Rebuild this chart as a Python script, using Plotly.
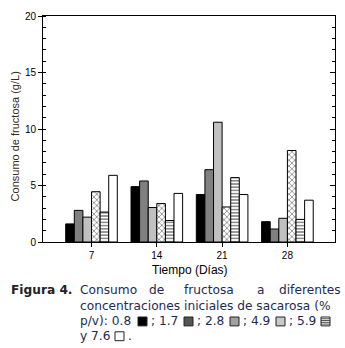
import plotly.graph_objects as go

days = [7, 14, 21, 28]
tick_labels = ["7", "14", "21", "28"]
series_names = ["0.8", "1.7", "2.8", "4.9", "5.9", "7.6"]
s08 = [1.6, 4.9, 4.2, 1.8]
s17 = [2.8, 5.4, 6.4, 1.15]
s28 = [2.2, 3.05, 10.6, 2.1]
s49 = [4.45, 3.4, 3.1, 8.1]
s59 = [2.65, 1.9, 5.7, 2.0]
s76 = [5.9, 4.3, 4.2, 3.7]

W, H = 345, 348
L, R, T, B = 43, 335, 13, 242


def px(x):
    return (x - L) / (R - L)


def py(y):
    return (B - y) / (B - T)


styles = [
    dict(color="#000000"),
    dict(color="#808080"),
    dict(color="#c0c0c0"),
    dict(color="#ffffff", pattern=dict(shape="x", size=4, solidity=0.35, fgcolor="#000000", bgcolor="#ffffff")),
    dict(color="#ffffff", pattern=dict(shape="-", size=3.2, solidity=0.45, fgcolor="#000000", bgcolor="#ffffff")),
    dict(color="#ffffff"),
]

fig = go.Figure()
for name, vals, st in zip(series_names, [s08, s17, s28, s49, s59, s76], styles):
    fig.add_trace(go.Bar(x=days, y=vals, name=name,
                         marker=dict(line=dict(color="#000000", width=1), **st)))

fig.add_trace(go.Scatter(x=[days[0]], y=[0], yaxis="y2", mode="markers",
                         marker=dict(opacity=0), showlegend=False, hoverinfo="skip"))

tickfont = dict(family="Liberation Sans, Arial", size=10, color="#000000")
fig.update_layout(
    width=W, height=H,
    margin=dict(l=L, r=W - R, t=T, b=H - B),
    paper_bgcolor="white", plot_bgcolor="white",
    barmode="group", bargap=0.21, bargroupgap=0,
    showlegend=False,
    xaxis=dict(range=[1.8, 33.1], tickvals=days, ticktext=tick_labels,
               ticks="outside", ticklen=4, tickcolor="black", tickwidth=1,
               showline=True, linecolor="black", linewidth=1, mirror=True,
               showgrid=False, zeroline=False, tickfont=tickfont),
    yaxis=dict(range=[0, 20], dtick=5, ticks="outside", ticklen=4, tickcolor="black",
               showline=True, linecolor="black", linewidth=1,
               showgrid=False, zeroline=False, tickfont=tickfont,
               minor=dict(dtick=1, ticks="inside", ticklen=3, tickcolor="black", showgrid=False)),
    yaxis2=dict(range=[0, 20], dtick=5, overlaying="y", side="right",
                ticks="inside", ticklen=5, tickcolor="black",
                showline=True, linecolor="black", linewidth=1,
                showgrid=False, zeroline=False, showticklabels=False,
                minor=dict(dtick=1, ticks="inside", ticklen=3, tickcolor="black", showgrid=False)),
)

ann = []
ann.append(dict(text="Consumo de fructosa (g/L)", x=px(15), y=py(135), textangle=-90,
                font=dict(family="Liberation Sans, Arial", size=11, color="#3a2a14")))
ann.append(dict(text="Tiempo (Días)", x=px(190), y=py(270),
                font=dict(family="Liberation Sans, Arial", size=12, color="#000000")))

cap_font = dict(family="DejaVu Sans, Verdana", size=12.2, color="#1c2b52")
ann.append(dict(text="<b>Figura 4.</b>", x=px(9), y=py(291), xanchor="left",
                font=dict(family="DejaVu Sans, Verdana", size=12.2, color="#222222")))
for w, x0 in [("Consumo", 78), ("de", 147), ("fructosa", 182), ("a", 255), ("diferentes", 277)]:
    ann.append(dict(text=w, x=px(x0), y=py(291), xanchor="left", font=cap_font))
ann.append(dict(text="concentraciones iniciales de sacarosa (%", x=px(78), y=py(307),
                xanchor="left", font=cap_font))
for w, x0 in [("p/v): 0.8", 78), ("; 1.7", 149), ("; 2.8", 195), ("; 4.9", 241), ("; 5.9", 287)]:
    ann.append(dict(text=w, x=px(x0), y=py(322), xanchor="left", font=cap_font))
ann.append(dict(text="y 7.6", x=px(78), y=py(337), xanchor="left", font=cap_font))
ann.append(dict(text=".", x=px(126), y=py(337), xanchor="left", font=cap_font))

for a in ann:
    a.update(xref="paper", yref="paper", showarrow=False, yanchor="middle")
    if "xanchor" not in a:
        a["xanchor"] = "center"
fig.update_layout(annotations=ann)

shapes = []
sq = [(138, 318, "#000000"), (184, 318, "#555555"), (230, 318, "#a0a0a0"),
      (276, 318, "#c8c8c8"), (321, 318, "#ffffff"), (115, 333, "#ffffff")]
for x0, y0, c in sq:
    shapes.append(dict(type="rect", xref="paper", yref="paper",
                       x0=px(x0), x1=px(x0 + 9), y0=py(y0), y1=py(y0 + 9),
                       fillcolor=c, line=dict(color="#222222", width=1)))
for k in range(1, 5):
    yy = 318 + k * 1.8
    shapes.append(dict(type="line", xref="paper", yref="paper",
                       x0=px(321), x1=px(330), y0=py(yy), y1=py(yy),
                       line=dict(color="#222222", width=0.8)))
fig.update_layout(shapes=shapes)

fig.write_html("out.html", config={"displayModeBar": False},
               post_script="document.body.style.margin='0';")
